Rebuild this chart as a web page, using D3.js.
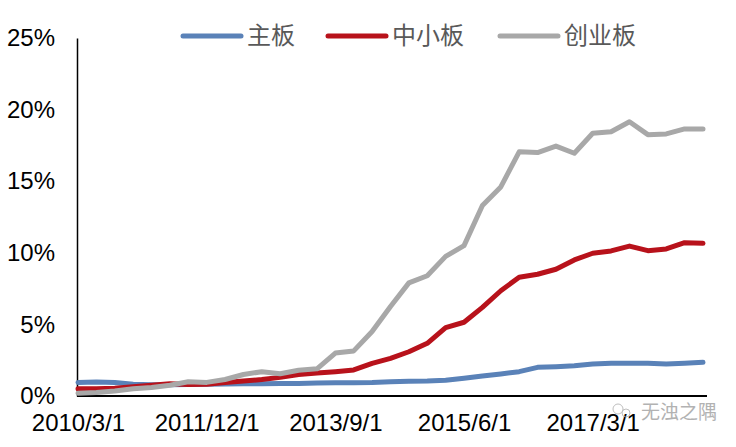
<!DOCTYPE html>
<html>
<head>
<meta charset="utf-8">
<script src="https://cdn.jsdelivr.net/npm/d3@7"></script>
<style>
html,body{margin:0;padding:0;background:#fff;}
svg{display:block;}
</style>
</head>
<body>
<svg id="chart" width="736" height="447"></svg>
<script>
const categories = [
  "2010/3/1","2010/6/1","2010/9/1","2010/12/1",
  "2011/3/1","2011/6/1","2011/9/1","2011/12/1",
  "2012/3/1","2012/6/1","2012/9/1","2012/12/1",
  "2013/3/1","2013/6/1","2013/9/1","2013/12/1",
  "2014/3/1","2014/6/1","2014/9/1","2014/12/1",
  "2015/3/1","2015/6/1","2015/9/1","2015/12/1",
  "2016/3/1","2016/6/1","2016/9/1","2016/12/1",
  "2017/3/1","2017/6/1","2017/9/1","2017/12/1",
  "2018/3/1","2018/6/1","2018/9/1"
];
const mainBoard = [0.95,0.97,0.95,0.82,0.78,0.78,0.80,0.82,0.84,0.85,0.86,0.87,0.88,0.90,0.92,
  0.93,0.95,1.00,1.03,1.05,1.10,1.24,1.40,1.54,1.70,2.00,2.05,2.12,2.23,2.28,2.28,2.28,2.23,2.28,2.35];
const smeBoard = [0.50,0.50,0.55,0.65,0.75,0.85,0.80,0.82,0.95,1.05,1.15,1.30,1.50,1.60,1.70,
  1.82,2.28,2.63,3.09,3.68,4.78,5.15,6.19,7.35,8.29,8.50,8.85,9.50,9.97,10.13,10.47,10.15,10.27,10.71,10.66];
const gemBoard = [0.20,0.25,0.35,0.50,0.60,0.75,1.00,0.95,1.15,1.50,1.70,1.55,1.80,1.90,3.00,
  3.15,4.50,6.25,7.90,8.40,9.75,10.50,13.30,14.60,17.05,17.00,17.45,16.95,18.35,18.45,19.15,18.25,18.30,18.65,18.65];
const seriesNames = ["主板","中小板","创业板"];
const yTicks = [0,5,10,15,20,25];
const xTickLabels = ["2010/3/1","2011/12/1","2013/9/1","2015/6/1","2017/3/1"];

const series = [
  {name: seriesNames[0], values: mainBoard, color: "#5a82b8"},
  {name: seriesNames[1], values: smeBoard, color: "#b8121b"},
  {name: seriesNames[2], values: gemBoard, color: "#a8a8a8"}
];

const svg = d3.select("#chart");
const x = d3.scalePoint().domain(categories).range([78, 703]);
const y = d3.scaleLinear().domain([0, 25]).range([396, 38]);

const latin = "'Liberation Sans', Arial, sans-serif";
const cjk = "'Noto Sans CJK SC', 'Noto Sans', sans-serif";

// Y axis
const yAxis = svg.append("g").attr("transform", "translate(77,0)")
  .call(d3.axisLeft(y).tickValues(yTicks).tickFormat(d => d + "%").tickSize(0).tickPadding(22));
yAxis.select(".domain").attr("stroke", "#000").attr("stroke-width", 1.5);
yAxis.selectAll("text").attr("font-family", latin).attr("font-size", 24).attr("fill", "#000");

// X axis
const xAxis = svg.append("g").attr("transform", "translate(0,396)")
  .call(d3.axisBottom(x).tickValues(xTickLabels).tickSize(0).tickPadding(18).tickSizeOuter(0));
xAxis.select(".domain").attr("d", "M77,0H707").attr("stroke", "#000").attr("stroke-width", 2);
xAxis.selectAll("text").attr("font-family", latin).attr("font-size", 24).attr("fill", "#000");

// Lines
const line = d3.line().x((d, i) => x(categories[i])).y(d => y(d));
svg.append("g").selectAll("path").data(series).join("path")
  .attr("d", d => line(d.values))
  .attr("fill", "none")
  .attr("stroke", d => d.color)
  .attr("stroke-width", 5)
  .attr("stroke-linejoin", "round")
  .attr("stroke-linecap", "round");

// Legend
const legendX = [183, 328, 500];
const lg = svg.append("g").selectAll("g").data(series).join("g")
  .attr("transform", (d, i) => `translate(${legendX[i]},36)`);
lg.append("line").attr("x1", 0).attr("x2", 58).attr("y1", 0).attr("y2", 0)
  .attr("stroke", d => d.color).attr("stroke-width", 5).attr("stroke-linecap", "round");
lg.append("text").attr("x", 64).attr("y", 0).attr("dy", "0.35em")
  .attr("font-family", cjk).attr("font-size", 24).attr("fill", "#595959")
  .text(d => d.name);

// Watermark
const wm = svg.append("g").attr("opacity", 0.75);
wm.append("circle").attr("cx", 618).attr("cy", 409).attr("r", 5).attr("fill", "none").attr("stroke", "#aaa").attr("stroke-width", 1);
wm.append("circle").attr("cx", 626).attr("cy", 413).attr("r", 4).attr("fill", "none").attr("stroke", "#aaa").attr("stroke-width", 1);
wm.append("text").attr("x", 641).attr("y", 412).attr("dy", "0.35em")
  .attr("font-family", cjk).attr("font-size", 19).attr("fill", "#999")
  .text("无浊之隅");
</script>
</body>
</html>
